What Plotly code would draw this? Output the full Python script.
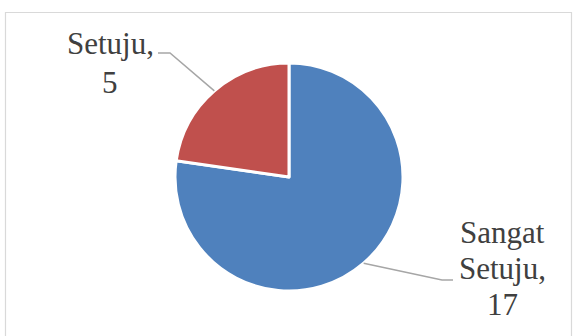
import math
import plotly.graph_objects as go

labels = ["Sangat Setuju", "Setuju"]
values = [17, 5]
colors = ["#4F81BD", "#C0504D"]
label_lines = [["Sangat", "Setuju,", "17"], ["Setuju,", "5"]]

W, H = 573, 336
cx, cy, r = 289, 177, 114  # pie centre / radius in px

fig = go.Figure(go.Pie(
    labels=labels, values=values, sort=False, direction="clockwise", rotation=0,
    marker=dict(colors=colors, line=dict(color="white", width=3)),
    textinfo="none", hoverinfo="label+value", showlegend=False,
    domain=dict(x=[(cx - r) / W, (cx + r) / W], y=[1 - (cy + r) / H, 1 - (cy - r) / H]),
))

def px(x, y):
    return x / W, 1 - y / H

total = sum(values)
label_cfg = [
    dict(end=(442, 280), hook=(453, 280), tx=502, ty=[232, 268, 304]),
    dict(end=(170, 53), hook=(158, 53), tx=110, ty=[44, 82]),
]
FONT = "Liberation Serif, serif"
cum = 0
shapes = []
annotations = []
for i, v in enumerate(values):
    mid = (cum + v / 2) / total * 2 * math.pi
    cum += v
    ex = cx + r * math.sin(mid)
    ey = cy - r * math.cos(mid)
    cfg = label_cfg[i]
    pts = [(ex, ey), cfg["end"], cfg["hook"]]
    path = "M " + " L ".join(f"{px(*p)[0]},{px(*p)[1]}" for p in pts)
    shapes.append(dict(type="path", path=path, xref="paper", yref="paper",
                       line=dict(color="#A6A6A6", width=1.5)))
    for line, ty in zip(label_lines[i], cfg["ty"]):
        ax, ay = px(cfg["tx"], ty)
        annotations.append(dict(text=line, x=ax, y=ay, xref="paper", yref="paper",
                                xanchor="center", yanchor="middle", showarrow=False,
                                font=dict(family=FONT, size=31, color="#404040")))

shapes.append(dict(type="rect", xref="paper", yref="paper",
                   x0=5.5 / W, x1=571.5 / W, y0=-0.1, y1=1 - 12.5 / H,
                   line=dict(color="#D9D9D9", width=1.2), fillcolor="rgba(0,0,0,0)"))

fig.update_layout(width=W, height=H, margin=dict(l=0, r=0, t=0, b=0),
                  paper_bgcolor="white", plot_bgcolor="white",
                  shapes=shapes, annotations=annotations)
fig.write_html("out.html")
